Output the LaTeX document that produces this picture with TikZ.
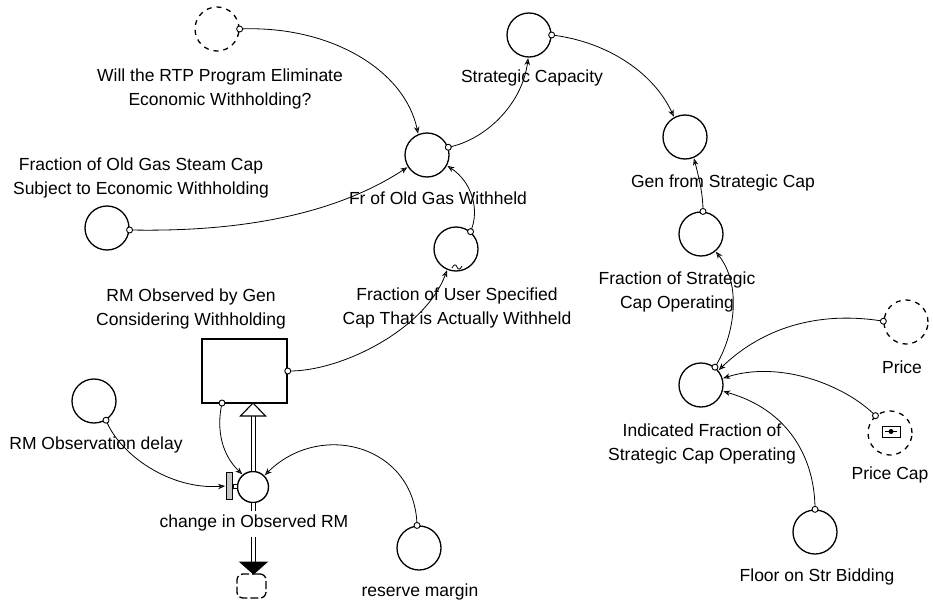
\documentclass[tikz,border=0pt]{standalone}
\usepackage{fontspec}
\setmainfont{Liberation Sans}
\usetikzlibrary{arrows.meta}
\begin{document}
\begin{tikzpicture}[x=1pt,y=-1pt,
  aux/.style={circle,draw,line width=1.3pt,minimum size=44pt,inner sep=0pt},
  shadowvar/.style={aux,dash pattern=on 5pt off 5pt},
  org/.style={circle,draw,line width=0.9pt,fill=white,minimum size=6pt,inner sep=0pt},
  lbl/.style={font=\fontsize{17.5}{24}\selectfont,align=center,inner sep=0pt},
  conn/.style={line width=0.8pt,-{Stealth[length=7pt,width=5.5pt,fill=gray!60]},shorten >=0.5pt},
  pipe/.style={double,double distance=3pt,line width=1pt},
]
\useasboundingbox (0,0) rectangle (933,599);

% auxiliaries
\node[shadowvar] (rtp) at (217,29) {};
\node[aux] (ogs) at (107,228) {};
\node[aux] (fr) at (427,155) {};
\node[aux] (sc) at (529,35) {};
\node[aux] (gen) at (685,137) {};
\node[aux] (fsc) at (701,234) {};
\node[aux] (ind) at (701,385) {};
\node[shadowvar] (price) at (906,322) {};
\node[shadowvar] (pc) at (890,433) {};
\node[aux] (floor) at (815,532) {};
\node[aux] (fu) at (456,249) {};
\node[aux] (delay) at (94,401) {};
\node[aux] (rm) at (419,548) {};

% lookup tilde and price cap symbol
\draw[line width=0.8pt] (452,268) .. controls (454,264) and (456,264) .. (457,267) .. controls (458,270) and (460,270) .. (462,266);
\node[draw,line width=1pt,minimum width=18pt,minimum height=11pt,inner sep=0pt] (pcsym) at (891,431.5) {};
\draw[line width=1pt] (pcsym.west) ++(3,0) -- ++(12,0);
\node[circle,fill=black,minimum size=5pt,inner sep=0pt] (pcdot) at (pcsym.center) {};

% stock
\node[draw,line width=1.5pt,minimum width=85pt,minimum height=64pt,inner sep=0pt] (stock) at (244.5,371) {};

% valve and handle
\node[circle,draw,line width=1.4pt,minimum size=31pt,inner sep=0pt] (valve) at (253,487) {};
\node[draw,line width=0.9pt,fill=gray!45,minimum width=6pt,minimum height=27pt,inner sep=0pt] (hdl) at (229,486) {};

% flow pipe
\coordinate (ptop) at (253,416);
\coordinate (pb1) at (253,511);
\coordinate (pb2) at (253,537);
\coordinate (pb3) at (253,562);
\draw[pipe] (valve.north) -- (ptop);
\draw[pipe] (valve.south) -- (pb1);
\draw[pipe] (pb2) -- (pb3);
\draw[line width=1.1pt,fill=white] (240.5,416) -- (253,403) -- (265.5,416) -- cycle;
\draw[line width=1pt,fill=black] (240,562) -- (267,562) -- (253.5,574) -- cycle;
\node[draw,line width=1.3pt,rounded corners=6pt,dash pattern=on 8pt off 3pt,minimum width=29pt,minimum height=24pt,inner sep=0pt] (cloud) at (251.5,586) {};

% labels
\node[lbl] (rtpL) at (220,89) {Will the RTP Program Eliminate\\Economic Withholding?};
\node[lbl] (ogsL) at (141,178) {Fraction of Old Gas Steam Cap\\Subject to Economic Withholding};
\node[lbl] (frL) at (438,198) {Fr of Old Gas Withheld};
\node[lbl] (scL) at (532,78) {Strategic Capacity};
\node[lbl] (genL) at (723,183) {Gen from Strategic Cap};
\node[lbl] (fscL) at (677,292) {Fraction of Strategic\\Cap Operating};
\node[lbl] (indL) at (702,444) {Indicated Fraction of\\Strategic Cap Operating};
\node[lbl] (priceL) at (902,367) {Price};
\node[lbl] (pcL) at (890,475) {Price Cap};
\node[lbl] (floorL) at (817,577) {Floor on Str Bidding};
\node[lbl] (fuL) at (457,308) {Fraction of User Specified\\Cap That is Actually Withheld};
\node[lbl] (stockL) at (191,309) {RM Observed by Gen\\Considering Withholding};
\node[lbl] (delayL) at (96,445) {RM Observation delay};
\node[lbl,fill=white,inner ysep=2pt] (flowL) at (254,523) {change in Observed RM};
\node[lbl] (rmL) at (420,592) {reserve margin};

% connectors
\draw[conn] (rtp.0) .. controls (330,25) and (405,70) .. (fr.113);
\draw[conn] (ogs.355) .. controls (230,232) and (330,218) .. (fr.212);
\draw[conn] (fr.20) .. controls (485,140) and (522,105) .. (sc.268);
\draw[conn] (sc.0) .. controls (610,42) and (655,75) .. (gen.119);
\draw[conn] (fsc.85) .. controls (703,195) and (700,182) .. (gen.293);
\draw[conn] (ind.52) .. controls (735,335) and (742,285) .. (fsc.310);
\draw[conn] (price.178) .. controls (815,310) and (760,330) .. (ind.40);
\draw[conn] (pc.130) .. controls (845,385) and (780,360) .. (ind.17);
\draw[conn] (floor.90) .. controls (815,460) and (790,410) .. (ind.344);
\draw[conn] (fu.50) .. controls (480,210) and (472,182) .. (fr.332);
\draw[conn] (stock.east) .. controls (340,372) and (425,330) .. (fu.247);
\coordinate (sb) at (222,403);
\draw[conn] (sb) .. controls (216,430) and (222,455) .. (valve.130);
\draw[conn] (delay.302) .. controls (120,455) and (170,490) .. (hdl.west);
\draw[conn] (rm.95) .. controls (415,445) and (320,420) .. (valve.45);

% connector origins
\foreach \p/\n in {rtp.0/a,ogs.355/b,fr.20/c,sc.0/d,fsc.85/e,ind.52/f,price.178/g,pc.130/h,floor.90/i,fu.50/j,stock.east/k,sb/l,delay.302/m,rm.95/n}
  \node[org] (o\n) at (\p) {};
\node[draw,fill=white,line width=0.8pt,minimum size=4pt,inner sep=0pt] (hsq) at (235,486) {};
\end{tikzpicture}
\end{document}
